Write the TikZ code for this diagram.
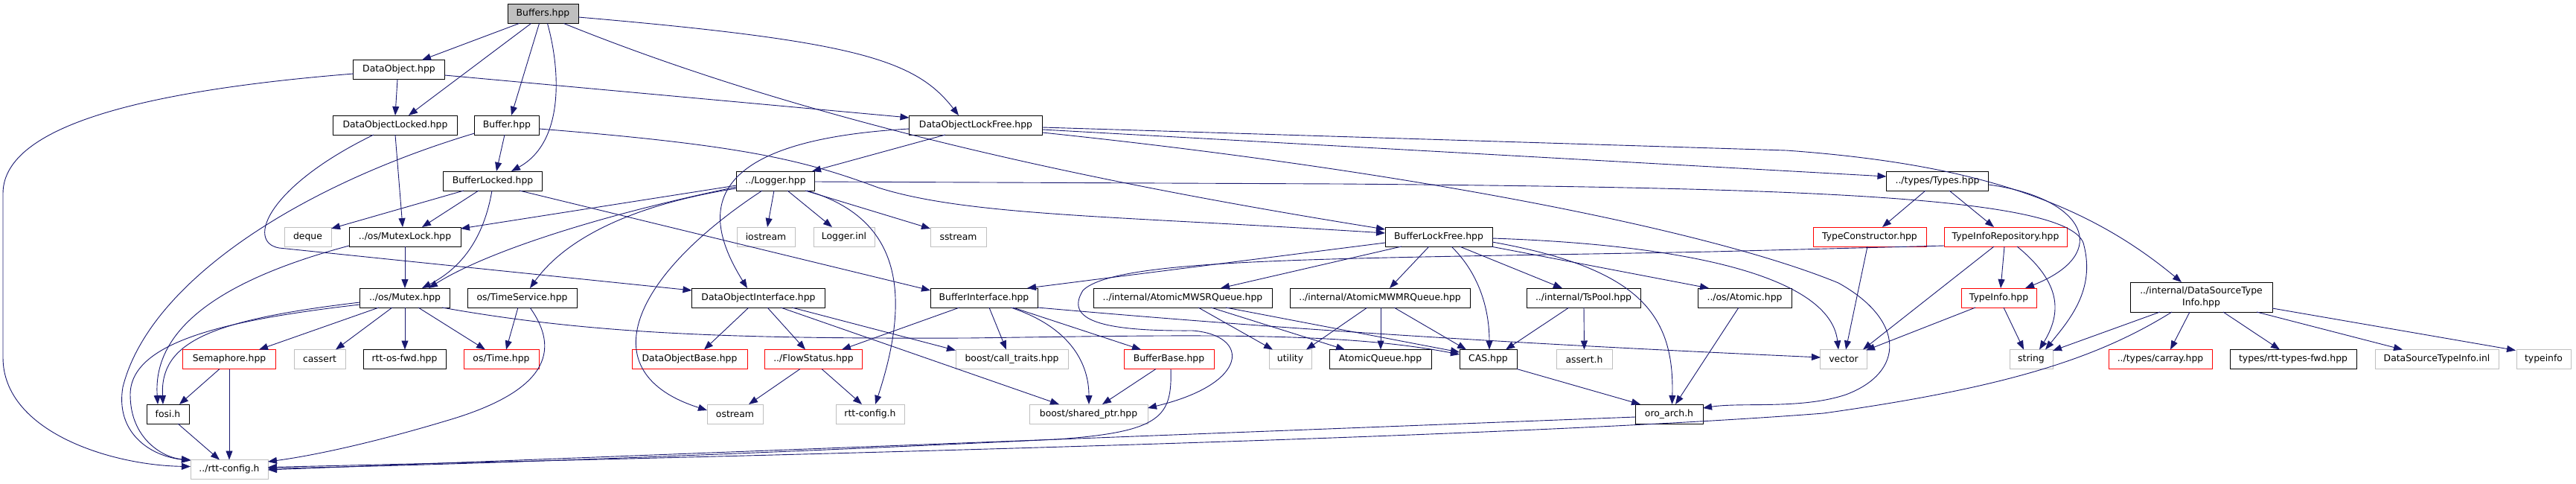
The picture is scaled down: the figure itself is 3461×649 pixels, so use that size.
\documentclass[tikz,border=0pt]{standalone}
\usepackage{fontspec}
\setmainfont{DejaVu Sans}
\usetikzlibrary{arrows.meta}
\definecolor{edgec}{HTML}{191970}
\definecolor{grayb}{HTML}{BFBFBF}
\definecolor{redb}{HTML}{FF0000}
\definecolor{fillg}{HTML}{BFBFBF}
\newcommand\nodefont{\fontsize{12.4pt}{15.3pt}\selectfont}
\tikzset{
  nbox/.style={draw=black, line width=1pt, minimum height=26pt, inner sep=0pt, font=\nodefont, align=center},
  gbox/.style={nbox, draw=grayb},
  rbox/.style={nbox, draw=redb},
  conn/.style={draw=edgec, line width=0.9pt, -{Triangle[length=12pt,width=9pt,fill=edgec]}}
}
\begin{document}
\begin{tikzpicture}[x=1pt,y=-1pt]
\useasboundingbox (0,0) rectangle (3461,649);
% nodes
\node[nbox, fill=fillg, minimum width=95pt] (buffers) at (729.5,18.5) {Buffers.hpp};
\node[nbox, minimum width=123pt] (dobj) at (536,93.5) {DataObject.hpp};
\node[nbox, minimum width=167pt] (dobjlocked) at (531,168) {DataObjectLocked.hpp};
\node[nbox, minimum width=87pt] (buffer) at (681,168) {Buffer.hpp};
\node[nbox, minimum width=179pt] (dobjlf) at (1311,168) {DataObjectLockFree.hpp};
\node[nbox, minimum width=133pt] (bufferlocked) at (662,243) {BufferLocked.hpp};
\node[nbox, minimum width=105pt] (logger) at (1042,243) {../Logger.hpp};
\node[nbox, minimum width=137pt] (types) at (2603,243) {../types/Types.hpp};
\node[gbox, minimum width=63pt] (deque) at (413.5,318) {deque};
\node[nbox, minimum width=150pt] (mutexlock) at (544,318) {../os/MutexLock.hpp};
\node[gbox, minimum width=78pt] (iostream) at (1029,318) {iostream};
\node[gbox, minimum width=82pt] (loggerinl) at (1134,318) {Logger.inl};
\node[gbox, minimum width=75pt] (sstream) at (1287.5,318) {sstream};
\node[nbox, minimum width=144pt] (bufferlf) at (1933,318) {BufferLockFree.hpp};
\node[rbox, minimum width=152pt] (typecons) at (2512,318) {TypeConstructor.hpp};
\node[rbox, minimum width=165pt] (typerepo) at (2694.5,318) {TypeInfoRepository.hpp};
\node[nbox, minimum width=121pt] (mutex) at (544,400) {../os/Mutex.hpp};
\node[nbox, minimum width=147pt] (timeservice) at (701.5,400) {os/TimeService.hpp};
\node[nbox, minimum width=179pt] (dobjif) at (1019,400) {DataObjectInterface.hpp};
\node[nbox, minimum width=144pt] (bufif) at (1322,400) {BufferInterface.hpp};
\node[nbox, minimum width=240pt] (mwsr) at (1589,400) {../internal/AtomicMWSRQueue.hpp};
\node[nbox, minimum width=242pt] (mwmr) at (1854,400) {../internal/AtomicMWMRQueue.hpp};
\node[nbox, minimum width=153pt] (tspool) at (2127.5,400) {../internal/TsPool.hpp};
\node[nbox, minimum width=126pt] (atomic) at (2344,400) {../os/Atomic.hpp};
\node[rbox, minimum width=101pt] (typeinfohpp) at (2685.5,400) {TypeInfo.hpp};
\node[nbox, minimum width=191pt, minimum height=40pt] (dsti) at (2957.5,399) {../internal/DataSourceType\\Info.hpp};
\node[rbox, minimum width=125pt] (semaphore) at (308,482.5) {Semaphore.hpp};
\node[gbox, minimum width=69pt] (cassert) at (429.5,482.5) {cassert};
\node[nbox, minimum width=111pt] (rttosfwd) at (543.5,482.5) {rtt-os-fwd.hpp};
\node[rbox, minimum width=101pt] (ostime) at (673.5,482.5) {os/Time.hpp};
\node[rbox, minimum width=155pt] (dobjbase) at (926.5,482.5) {DataObjectBase.hpp};
\node[rbox, minimum width=131pt] (flowstatus) at (1093,482.5) {../FlowStatus.hpp};
\node[gbox, minimum width=151pt] (calltraits) at (1359.5,482.5) {boost/call\_traits.hpp};
\node[rbox, minimum width=121pt] (bufbase) at (1570.5,482.5) {BufferBase.hpp};
\node[gbox, minimum width=57pt] (utility) at (1733.5,482.5) {utility};
\node[nbox, minimum width=137pt] (atomicqueue) at (1854.5,482.5) {AtomicQueue.hpp};
\node[nbox, minimum width=77pt] (cas) at (1999.5,482.5) {CAS.hpp};
\node[gbox, minimum width=75pt] (asserth) at (2128.5,482.5) {assert.h};
\node[gbox, minimum width=63pt] (vector) at (2477,482.5) {vector};
\node[gbox, minimum width=58pt] (string) at (2729,482.5) {string};
\node[rbox, minimum width=139pt] (carray) at (2902.5,482.5) {../types/carray.hpp};
\node[nbox, minimum width=170pt] (rtttypesfwd) at (3081,482.5) {types/rtt-types-fwd.hpp};
\node[gbox, minimum width=166pt] (dstiinl) at (3274,482.5) {DataSourceTypeInfo.inl};
\node[gbox, minimum width=73pt] (typeinfo) at (3417.5,482.5) {typeinfo};
\node[nbox, minimum width=57pt] (fosi) at (225.5,556) {fosi.h};
\node[gbox, minimum width=75pt] (ostream) at (987.5,556) {ostream};
\node[gbox, minimum width=92pt] (rttconfig2) at (1169,556) {rtt-config.h};
\node[gbox, minimum width=159pt] (sharedptr) at (1462.5,556) {boost/shared\_ptr.hpp};
\node[nbox, minimum width=91pt] (oroarch) at (2242.5,556) {oro\_arch.h};
\node[gbox, minimum width=104pt] (rttconfig) at (308,630.5) {../rtt-config.h};
% edges from Buffers.hpp
\draw[conn] ([shift={(-32,13)}]buffers.center) -- ([shift={(31,-13)}]dobj.center);
\draw[conn] ([shift={(-16,13)}]buffers.center) -- ([shift={(18,-13)}]dobjlocked.center);
\draw[conn] ([shift={(-5,13)}]buffers.center) -- ([shift={(6,-13)}]buffer.center);
\draw[conn] ([shift={(6,13)}]buffers.center) .. controls (752,90) and (760,190) .. ([shift={(25,-13)}]bufferlocked.center);
\draw[conn] ([shift={(28,13)}]buffers.center) .. controls (1100,170) and (1500,250) .. ([shift={(-72,-10)}]bufferlf.center);
\draw[conn] ([shift={(47.5,4.5)}]buffers.center) .. controls (1150,55) and (1230,80) .. ([shift={(-23,-13)}]dobjlf.center);
% DataObject.hpp
\draw[conn] ([shift={(-2,13)}]dobj.center) -- ([shift={(0,-13)}]dobjlocked.center);
\draw[conn] ([shift={(61.5,7.5)}]dobj.center) -- ([shift={(-89.5,-10)}]dobjlf.center);
\draw[conn] ([shift={(-61,5.5)}]dobj.center) .. controls (150,125) and (4,180) .. (4,260) -- (4,480) .. controls (4,580) and (150,625) .. ([shift={(-52,-4)}]rttconfig.center);
% DataObjectLocked.hpp
\draw[conn] ([shift={(0,13)}]dobjlocked.center) -- ([shift={(-3,-13)}]mutexlock.center);
\draw[conn] ([shift={(-29,13)}]dobjlocked.center) .. controls (360,250) and (330,325) .. (375,333) -- ([shift={(-89.5,-10)}]dobjif.center);
% Buffer.hpp
\draw[conn] ([shift={(-3,13)}]buffer.center) -- ([shift={(5,-13)}]bufferlocked.center);
\draw[conn] ([shift={(-43.5,11)}]buffer.center) .. controls (400,250) and (200,380) .. (165,520) .. controls (155,580) and (200,612) .. ([shift={(-52,-12)}]rttconfig.center);
\draw[conn] ([shift={(43.5,5)}]buffer.center) .. controls (1000,195) and (1080,215) .. (1180,252) .. controls (1300,290) and (1500,290) .. ([shift={(-72,-5)}]bufferlf.center);
% BufferLocked.hpp
\draw[conn] ([shift={(-39,13)}]bufferlocked.center) -- ([shift={(31.5,-11)}]deque.center);
\draw[conn] ([shift={(-19,13)}]bufferlocked.center) -- ([shift={(23,-13)}]mutexlock.center);
\draw[conn] ([shift={(-1,13)}]bufferlocked.center) .. controls (650,320) and (620,360) .. ([shift={(23,-13)}]mutex.center);
\draw[conn] ([shift={(36,13)}]bufferlocked.center) -- ([shift={(-72,-10)}]bufif.center);
% DataObjectLockFree.hpp
\draw[conn] ([shift={(-41,13)}]dobjlf.center) -- ([shift={(49,-13)}]logger.center);
\draw[conn] ([shift={(-89.5,5)}]dobjlf.center) .. controls (920,190) and (950,300) .. ([shift={(-15,-13)}]dobjif.center);
\draw[conn] ([shift={(89.5,6)}]dobjlf.center) -- ([shift={(-68.5,-6)}]types.center);
\draw[conn] ([shift={(89.5,3)}]dobjlf.center) -- (2400,202) .. controls (2650,220) and (2800,270) .. ([shift={(-26.5,-20)}]dsti.center);
\draw[conn] ([shift={(89.5,10)}]dobjlf.center) .. controls (1900,230) and (2300,310) .. (2470,380) .. controls (2560,430) and (2560,500) .. (2480,530) .. controls (2420,550) and (2340,540) .. ([shift={(45.5,-8)}]oroarch.center);
% Logger.hpp
\draw[conn] ([shift={(-2,13)}]logger.center) -- ([shift={(2,-13)}]iostream.center);
\draw[conn] ([shift={(16,13)}]logger.center) -- ([shift={(-16,-13)}]loggerinl.center);
\draw[conn] ([shift={(40,13)}]logger.center) -- ([shift={(-37.5,-11)}]sstream.center);
\draw[conn] ([shift={(42,13)}]logger.center) .. controls (1200,290) and (1230,380) .. ([shift={(7,-13)}]rttconfig2.center);
\draw[conn] ([shift={(52.5,1)}]logger.center) -- (1800,247) .. controls (2400,252) and (2790,262) .. (2800,330) .. controls (2815,390) and (2780,430) .. ([shift={(19,-13)}]string.center);
\draw[conn] ([shift={(-52.5,6)}]logger.center) -- ([shift={(75,-11)}]mutexlock.center);
\draw[conn] ([shift={(-52.5,8)}]logger.center) .. controls (800,290) and (650,340) .. ([shift={(32,-13)}]mutex.center);
\draw[conn] ([shift={(-52.5,10)}]logger.center) .. controls (850,275) and (760,320) .. ([shift={(10.5,-13)}]timeservice.center);
\draw[conn] ([shift={(-18,13)}]logger.center) .. controls (850,370) and (790,500) .. ([shift={(-37.5,-5)}]ostream.center);
% Types.hpp
\draw[conn] ([shift={(-16,13)}]types.center) -- ([shift={(17,-13)}]typecons.center);
\draw[conn] ([shift={(16,13)}]types.center) -- ([shift={(-15.5,-13)}]typerepo.center);
\draw[conn] ([shift={(68.5,5)}]types.center) .. controls (2800,265) and (2840,340) .. ([shift={(35.5,-13)}]typeinfohpp.center);
% TypeConstructor / TypeInfoRepository / TypeInfo
\draw[conn] ([shift={(-3,13)}]typecons.center) -- ([shift={(3,-13)}]vector.center);
\draw[conn] ([shift={(-15.5,13)}]typerepo.center) -- ([shift={(26,-13)}]vector.center);
\draw[conn] ([shift={(-1.5,13)}]typerepo.center) -- ([shift={(2.5,-13)}]typeinfohpp.center);
\draw[conn] ([shift={(15.5,13)}]typerepo.center) .. controls (2770,380) and (2770,420) .. ([shift={(11,-13)}]string.center);
\draw[conn] ([shift={(-82.5,12)}]typerepo.center) -- (2300,338) .. controls (1800,348) and (1500,345) .. (1455,390) .. controls (1430,430) and (1480,445) .. (1602,444) .. controls (1680,450) and (1680,515) .. ([shift={(79.5,-8)}]sharedptr.center);
\draw[conn] ([shift={(-31.5,13)}]typeinfohpp.center) -- ([shift={(30,-12)}]vector.center);
\draw[conn] ([shift={(6.5,13)}]typeinfohpp.center) -- ([shift={(-10,-13)}]string.center);
% DataSourceTypeInfo.hpp
\draw[conn] ([shift={(-55.5,20)}]dsti.center) -- ([shift={(29,-11.5)}]string.center);
\draw[conn] ([shift={(-39.5,20)}]dsti.center) .. controls (2820,480) and (2700,520) .. (2450,555) .. controls (2000,590) and (900,615) .. ([shift={(52,-3)}]rttconfig.center);
\draw[conn] ([shift={(-15.5,20)}]dsti.center) -- ([shift={(13.5,-13)}]carray.center);
\draw[conn] ([shift={(29.5,20)}]dsti.center) -- ([shift={(-18,-13)}]rtttypesfwd.center);
\draw[conn] ([shift={(74.5,20)}]dsti.center) -- ([shift={(-46,-13)}]dstiinl.center);
\draw[conn] ([shift={(95.5,15)}]dsti.center) -- ([shift={(-37.5,-12)}]typeinfo.center);
% BufferLockFree.hpp
\draw[conn] ([shift={(-72,8)}]bufferlf.center) -- ([shift={(58,-13)}]bufif.center);
\draw[conn] ([shift={(-50,13)}]bufferlf.center) -- ([shift={(51,-13)}]mwsr.center);
\draw[conn] ([shift={(-13,13)}]bufferlf.center) -- ([shift={(13,-13)}]mwmr.center);
\draw[conn] ([shift={(17,13)}]bufferlf.center) .. controls (1990,370) and (2001,420) .. ([shift={(1.5,-13)}]cas.center);
\draw[conn] ([shift={(28,13)}]bufferlf.center) -- ([shift={(-28.5,-13)}]tspool.center);
\draw[conn] ([shift={(70,13)}]bufferlf.center) -- ([shift={(-48,-13)}]atomic.center);
\draw[conn] ([shift={(72,7)}]bufferlf.center) .. controls (2200,360) and (2250,420) .. ([shift={(4,-13)}]oroarch.center);
\draw[conn] ([shift={(72,2)}]bufferlf.center) .. controls (2300,330) and (2460,380) .. ([shift={(-7,-13)}]vector.center);
% BufferInterface.hpp
\draw[conn] ([shift={(-33,13)}]bufif.center) -- ([shift={(38,-13)}]flowstatus.center);
\draw[conn] ([shift={(7,13)}]bufif.center) -- ([shift={(-7.5,-13)}]calltraits.center);
\draw[conn] ([shift={(36,13)}]bufif.center) .. controls (1440,440) and (1463,490) .. ([shift={(0.5,-13)}]sharedptr.center);
\draw[conn] ([shift={(39,13)}]bufif.center) -- ([shift={(-37.5,-13)}]bufbase.center);
\draw[conn] ([shift={(72,13)}]bufif.center) .. controls (1700,440) and (2000,460) .. ([shift={(-31,-2.5)}]vector.center);
% DataObjectInterface.hpp
\draw[conn] ([shift={(-13,13)}]dobjif.center) -- ([shift={(19.5,-13)}]dobjbase.center);
\draw[conn] ([shift={(12,13)}]dobjif.center) -- ([shift={(-11,-13)}]flowstatus.center);
\draw[conn] ([shift={(45,13)}]dobjif.center) -- ([shift={(-75.5,-12)}]calltraits.center);
\draw[conn] ([shift={(30,13)}]dobjif.center) -- ([shift={(-39.5,-13)}]sharedptr.center);
% FlowStatus / BufferBase
\draw[conn] ([shift={(-18,13)}]flowstatus.center) -- ([shift={(18.5,-13)}]ostream.center);
\draw[conn] ([shift={(11,13)}]flowstatus.center) -- ([shift={(-11,-13)}]rttconfig2.center);
\draw[conn] ([shift={(-17.5,13)}]bufbase.center) -- ([shift={(18.5,-13)}]sharedptr.center);
\draw[conn] ([shift={(2.5,13)}]bufbase.center) .. controls (1575,560) and (1560,580) .. (1420,590) .. controls (1000,610) and (600,625) .. ([shift={(52,-1.5)}]rttconfig.center);
% queues
\draw[conn] ([shift={(21,13)}]mwsr.center) -- ([shift={(-23.5,-13)}]utility.center);
\draw[conn] ([shift={(38,13)}]mwsr.center) -- ([shift={(-47.5,-13)}]atomicqueue.center);
\draw[conn] ([shift={(58,13)}]mwsr.center) -- ([shift={(-38.5,-9.5)}]cas.center);
\draw[conn] ([shift={(-17,13)}]mwmr.center) -- ([shift={(21.5,-13)}]utility.center);
\draw[conn] ([shift={(1,13)}]mwmr.center) -- ([shift={(0.5,-13)}]atomicqueue.center);
\draw[conn] ([shift={(19,13)}]mwmr.center) -- ([shift={(-29.5,-13)}]cas.center);
\draw[conn] ([shift={(-19.5,13)}]tspool.center) -- ([shift={(23.5,-13)}]cas.center);
\draw[conn] ([shift={(0.5,13)}]tspool.center) -- ([shift={(0,-13)}]asserth.center);
\draw[conn] ([shift={(-8,13)}]atomic.center) -- ([shift={(8.5,-13)}]oroarch.center);
\draw[conn] ([shift={(38.5,13)}]cas.center) -- ([shift={(-38.5,-13)}]oroarch.center);
\draw[conn] ([shift={(-45.5,4)}]oroarch.center) -- ([shift={(52,0.5)}]rttconfig.center);
% Mutex.hpp
\draw[conn] ([shift={(-35,13)}]mutex.center) -- ([shift={(40,-13)}]semaphore.center);
\draw[conn] ([shift={(-17,13)}]mutex.center) -- ([shift={(21.5,-13)}]cassert.center);
\draw[conn] ([shift={(0,13)}]mutex.center) -- ([shift={(0.5,-13)}]rttosfwd.center);
\draw[conn] ([shift={(18,13)}]mutex.center) -- ([shift={(-21.5,-13)}]ostime.center);
\draw[conn] ([shift={(50,13)}]mutex.center) .. controls (800,450) and (1000,455) .. (1300,454) .. controls (1600,450) and (1800,445) .. ([shift={(-38.5,-6.5)}]cas.center);
\draw[conn] ([shift={(-60.5,6)}]mutex.center) .. controls (280,430) and (215,460) .. ([shift={(-6.5,-13)}]fosi.center);
\draw[conn] ([shift={(-60.5,9)}]mutex.center) .. controls (300,430) and (175,460) .. (175,530) .. controls (175,590) and (220,615) .. ([shift={(-52,-13)}]rttconfig.center);
% MutexLock.hpp
\draw[conn] ([shift={(0,13)}]mutexlock.center) -- ([shift={(0,-13)}]mutex.center);
\draw[conn] ([shift={(-75,12)}]mutexlock.center) .. controls (300,375) and (205,440) .. ([shift={(-13.5,-13)}]fosi.center);
% Semaphore, fosi, TimeService
\draw[conn] ([shift={(-13,13)}]semaphore.center) -- ([shift={(15.5,-13)}]fosi.center);
\draw[conn] ([shift={(0,13)}]semaphore.center) -- ([shift={(0,-13)}]rttconfig.center);
\draw[conn] ([shift={(13.5,13)}]fosi.center) -- ([shift={(-13,-13)}]rttconfig.center);
\draw[conn] ([shift={(-5.5,13)}]timeservice.center) -- ([shift={(6.5,-13)}]ostime.center);
\draw[conn] ([shift={(10.5,13)}]timeservice.center) .. controls (760,480) and (720,530) .. (600,565) .. controls (500,595) and (420,612) .. ([shift={(52,-10.5)}]rttconfig.center);
\end{tikzpicture}
\end{document}
